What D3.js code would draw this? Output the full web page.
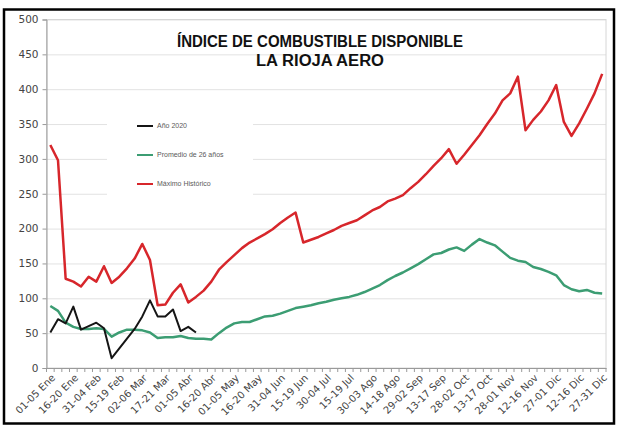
<!DOCTYPE html>
<html>
<head>
    <meta charset="utf-8">
    <title>indice-combustible-la-rioja</title>
    <style>
body {
        margin: 0;
        background: #fff;
        font-family: "Liberation Sans", Arial, sans-serif;
      }
.grid line { stroke: #e2e2e2; stroke-width: 1; }
.grid .domain { display: none; }
.axisY text { font-family: "DejaVu Sans", sans-serif; font-size: 10.5px; fill: #444; }
.axisY line, .axisY path { stroke: #9a9a9a; }
.axisX text { font-family: "DejaVu Sans", sans-serif; font-size: 10px; fill: #444; }
.axisX path { stroke: #9a9a9a; }
.minorTick { stroke: #9a9a9a; }
.serie { fill: none; stroke-linejoin: round; }
.legendText { font-size: 7px; fill: #5a5a5a; }
</style>
</head>

<body>
    <script src="https://cdn.jsdelivr.net/npm/d3@7"></script>
    <script>
        /* Periodos de 5 dias del año */
        var periods = [
            "01-05 Ene", "06-10 Ene", "11-15 Ene", "16-20 Ene", "21-25 Ene", "26-30 Ene",
            "31-04 Feb", "05-09 Feb", "10-14 Feb", "15-19 Feb", "20-24 Feb", "25-01 Mar",
            "02-06 Mar", "07-11 Mar", "12-16 Mar", "17-21 Mar", "22-26 Mar", "27-31 Mar",
            "01-05 Abr", "06-10 Abr", "11-15 Abr", "16-20 Abr", "21-25 Abr", "26-30 Abr",
            "01-05 May", "06-10 May", "11-15 May", "16-20 May", "21-25 May", "26-30 May",
            "31-04 Jun", "05-09 Jun", "10-14 Jun", "15-19 Jun", "20-24 Jun", "25-29 Jun",
            "30-04 Jul", "05-09 Jul", "10-14 Jul", "15-19 Jul", "20-24 Jul", "25-29 Jul",
            "30-03 Ago", "04-08 Ago", "09-13 Ago", "14-18 Ago", "19-23 Ago", "24-28 Ago",
            "29-02 Sep", "03-07 Sep", "08-12 Sep", "13-17 Sep", "18-22 Sep", "23-27 Sep",
            "28-02 Oct", "03-07 Oct", "08-12 Oct", "13-17 Oct", "18-22 Oct", "23-27 Oct",
            "28-01 Nov", "02-06 Nov", "07-11 Nov", "12-16 Nov", "17-21 Nov", "22-26 Nov",
            "27-01 Dic", "02-06 Dic", "07-11 Dic", "12-16 Dic", "17-21 Dic", "22-26 Dic",
            "27-31 Dic"
        ];

        /* Labels shown on the x axis (every third period) */
        var tickLabels = [
            "01-05 Ene", "16-20 Ene", "31-04 Feb", "15-19 Feb", "02-06 Mar", "17-21 Mar",
            "01-05 Abr", "16-20 Abr", "01-05 May", "16-20 May", "31-04 Jun", "15-19 Jun",
            "30-04 Jul", "15-19 Jul", "30-03 Ago", "14-18 Ago", "29-02 Sep", "13-17 Sep",
            "28-02 Oct", "13-17 Oct", "28-01 Nov", "12-16 Nov", "27-01 Dic", "12-16 Dic",
            "27-31 Dic"
        ];

        var yTicks = [0, 50, 100, 150, 200, 250, 300, 350, 400, 450, 500];

        /* Máximo Histórico */
        var maximo = [
            320, 298, 128, 124, 117, 131, 124, 146, 122, 131,
            143, 157, 178, 155, 90, 91, 108, 120, 94, 102,
            111, 124, 141, 152, 162, 172, 180, 186, 192, 199,
            208, 216, 223, 180, 184, 188, 193, 198, 204, 208,
            212, 219, 226, 231, 239, 243, 248, 258, 267, 278,
            290, 301, 314, 293, 306, 320, 334, 350, 365, 384,
            394, 418, 341, 356, 368, 384, 406, 353, 333, 351,
            372, 394, 422
        ];

        /* Promedio de 26 años */
        var promedio = [
            89, 82, 65, 59, 56, 56, 57, 56, 45, 51,
            55, 55, 54, 51, 43, 44, 44, 46, 43, 42,
            42, 41, 50, 58, 64, 66, 66, 70, 74, 75,
            78, 82, 86, 88, 90, 93, 95, 98, 100, 102,
            105, 109, 114, 119, 126, 132, 137, 143, 149, 156,
            163, 165, 170, 173, 168, 177, 185, 180, 176, 167,
            158, 154, 152, 145, 142, 138, 133, 119, 113, 110,
            112, 108, 107
        ];

        /* Año 2020 (hasta abril) */
        var anio2020 = [
            51, 70, 64, 88, 55, 60, 65, 57, 14, 28,
            42, 56, 74, 97, 74, 74, 84, 53, 59, 51
        ];

        var totalWidth = 617, totalHeight = 428;
        var margin = { top: 19.5, right: 11, bottom: 60, left: 46.5 };
        var width = totalWidth - margin.left - margin.right,
            height = totalHeight - margin.top - margin.bottom;

        var root = d3.select("body").append("svg")
            .attr("width", totalWidth)
            .attr("height", totalHeight);

        /* black frame round the whole chart */
        root.append("rect")
            .attr("x", 4).attr("y", 9.5)
            .attr("width", 610).attr("height", 414)
            .attr("fill", "#fff")
            .attr("stroke", "#000")
            .attr("stroke-width", 2.5);

        var svg = root.append("g")
            .attr("transform", "translate(" + margin.left + "," + margin.top + ")");

        var x = d3.scaleBand()
            .domain(periods)
            .range([0, width])
            .padding(0);

        var y = d3.scaleLinear()
            .domain([0, 500])
            .range([height, 0]);

        var cx = function (i) { return x(periods[i]) + x.bandwidth() / 2; };

        /* horizontal gridlines */
        svg.append("g")
            .attr("class", "grid")
            .call(d3.axisLeft(y).tickValues(yTicks).tickSize(-width).tickFormat(""));

        /* plot area border */
        svg.append("rect")
            .attr("width", width)
            .attr("height", height)
            .attr("fill", "none")
            .attr("stroke", "#d6d6d6");

        /* white box behind the legend hides the gridlines there */
        svg.append("rect")
            .attr("x", 60.5).attr("y", 80.5)
            .attr("width", 146).attr("height", 105)
            .attr("fill", "#fff");

        /* y axis */
        svg.append("g")
            .attr("class", "axisY")
            .call(d3.axisLeft(y).tickValues(yTicks).tickSize(4).tickPadding(4));

        /* x axis: small ticks between every period */
        svg.append("g")
            .selectAll("line")
            .data(periods.concat(["end"]))
            .enter()
            .append("line")
            .attr("class", "minorTick")
            .attr("x1", function (d) { return d === "end" ? width : x(d); })
            .attr("x2", function (d) { return d === "end" ? width : x(d); })
            .attr("y1", height)
            .attr("y2", height + 4);

        var xAxis = svg.append("g")
            .attr("class", "axisX")
            .attr("transform", "translate(0," + height + ")")
            .call(d3.axisBottom(x).tickValues(tickLabels).tickSize(0));

        xAxis.selectAll("text")
            .attr("y", 0)
            .attr("dy", "0.35em")
            .attr("text-anchor", "end")
            .attr("transform", "translate(3,8) rotate(-45)");

        /* series */
        var line = d3.line()
            .x(function (d, i) { return cx(i); })
            .y(function (d) { return y(d); });

        svg.append("path").datum(promedio)
            .attr("class", "serie")
            .attr("stroke", "#3c9d73")
            .attr("stroke-width", 2.5)
            .attr("d", line);

        svg.append("path").datum(maximo)
            .attr("class", "serie")
            .attr("stroke", "#d7262b")
            .attr("stroke-width", 2.5)
            .attr("d", line);

        svg.append("path").datum(anio2020)
            .attr("class", "serie")
            .attr("stroke", "#151515")
            .attr("stroke-width", 2)
            .attr("d", line);

        /* title, squeezed to the narrow look of the original */
        var titleLines = [
            { text: "ÍNDICE DE COMBUSTIBLE DISPONIBLE", y: 47, len: 286 },
            { text: "LA RIOJA AERO", y: 66, len: 128 }
        ];
        root.append("g").selectAll("text")
            .data(titleLines)
            .enter()
            .append("text")
            .attr("x", 320)
            .attr("y", function (d) { return d.y; })
            .attr("text-anchor", "middle")
            .attr("textLength", function (d) { return d.len; })
            .attr("lengthAdjust", "spacingAndGlyphs")
            .style("font-weight", "bold")
            .style("font-size", "16px")
            .style("fill", "#111")
            .text(function (d) { return d.text; });

        /* legend */
        var legendItems = [
            { name: "Año 2020", color: "#151515" },
            { name: "Promedio de 26 años", color: "#3c9d73" },
            { name: "Máximo Histórico", color: "#d7262b" }
        ];
        var legend = root.append("g").selectAll("g")
            .data(legendItems)
            .enter()
            .append("g")
            .attr("transform", function (d, i) { return "translate(137," + (126 + i * 29) + ")"; });
        legend.append("line")
            .attr("x1", 0).attr("x2", 16)
            .attr("stroke", function (d) { return d.color; })
            .attr("stroke-width", 2);
        legend.append("text")
            .attr("class", "legendText")
            .attr("x", 20)
            .attr("dy", "0.35em")
            .text(function (d) { return d.name; });
    </script>
</body>
</html>
